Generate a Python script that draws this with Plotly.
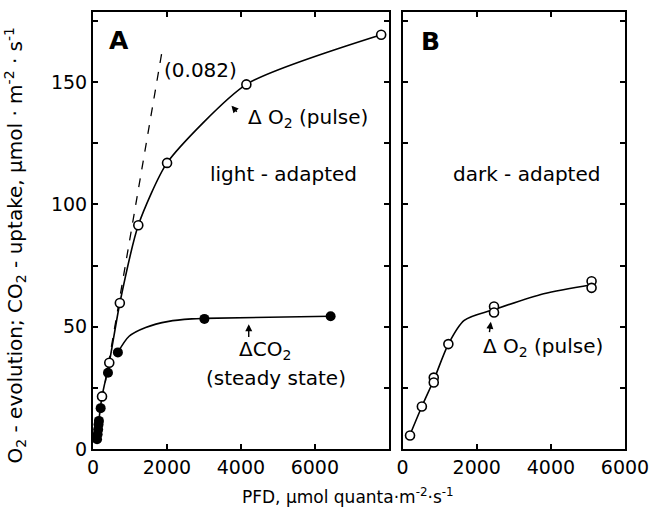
import plotly.graph_objects as go

# ---- Panel A: light-adapted ----
a_o2_x = [244, 440, 726, 1225, 2003, 4148, 7794]
a_o2_y = [21.5, 35.3, 59.7, 91.5, 117, 149.1, 169.4]
a_o2_curve_x = [130, 244, 440, 726, 1225, 2003, 4148, 7794]
a_o2_curve_y = [8, 21.5, 35.3, 59.7, 91.5, 117, 149.1, 169.4]

a_co2_x = [110, 125, 140, 150, 160, 207, 405, 673, 3013, 6427]
a_co2_y = [4, 6, 8, 10, 11.5, 16.7, 31.2, 39.5, 53.2, 54.3]
a_co2_curve_x = [673, 976, 1424, 2048, 2673, 3013, 6427]
a_co2_curve_y = [39.5, 46.1, 49.7, 52.2, 53.2, 53.4, 54.3]

a_slope_x = [250, 1860]
a_slope_y = [20, 162]

# ---- Panel B: dark-adapted ----
b_o2_x = [200, 519, 840, 840, 1234, 2466, 2466, 5098, 5098]
b_o2_y = [5.5, 17.4, 29.2, 27.2, 42.9, 58.3, 55.8, 68.6, 65.9]
b_curve_x = [190, 519, 840, 1234, 1662, 2466, 3804, 5098]
b_curve_y = [5.5, 17.4, 28.2, 42.9, 52.6, 57.0, 63.5, 67.2]

y_ticks = [0, 25, 50, 75, 100, 125, 150, 175]
y_ticktext = ["0", "", "50", "", "100", "", "150", ""]
x_ticks = [0, 2000, 4000, 6000]
x_ticktext = ["0", "2000", "4000", "6000"]

FONT = "DejaVu Sans"
W, H = 659, 523
ML, MR, MT, MB = 93, 30, 10, 74
PW, PH = W - ML - MR, H - MT - MB

fig = go.Figure()

line = dict(color="black", width=1.6)
fig.add_trace(go.Scatter(x=a_slope_x, y=a_slope_y, mode="lines",
                         line=dict(color="black", width=1.3, dash="dash"),
                         xaxis="x", yaxis="y", showlegend=False))
fig.add_trace(go.Scatter(x=a_o2_curve_x, y=a_o2_curve_y, mode="lines",
                         line=dict(shape="spline", smoothing=0.6, **line),
                         xaxis="x", yaxis="y", showlegend=False))
fig.add_trace(go.Scatter(x=a_co2_curve_x, y=a_co2_curve_y, mode="lines",
                         line=dict(shape="spline", smoothing=0.8, **line),
                         xaxis="x", yaxis="y", showlegend=False))
fig.add_trace(go.Scatter(x=a_co2_x, y=a_co2_y, mode="markers",
                         marker=dict(symbol="circle", size=10, color="black"),
                         xaxis="x", yaxis="y", showlegend=False))
fig.add_trace(go.Scatter(x=a_o2_x, y=a_o2_y, mode="markers",
                         marker=dict(symbol="circle", size=9, color="white",
                                     line=dict(color="black", width=1.6)),
                         xaxis="x", yaxis="y", showlegend=False))
fig.add_trace(go.Scatter(x=b_curve_x, y=b_curve_y, mode="lines",
                         line=dict(shape="spline", smoothing=0.8, **line),
                         xaxis="x2", yaxis="y2", showlegend=False))
fig.add_trace(go.Scatter(x=b_o2_x, y=b_o2_y, mode="markers",
                         marker=dict(symbol="circle", size=9, color="white",
                                     line=dict(color="black", width=1.6)),
                         xaxis="x2", yaxis="y2", showlegend=False))

axis_common = dict(showline=True, linecolor="black", linewidth=2, mirror="ticks",
                   ticks="inside", ticklen=5, tickwidth=1.6, tickcolor="black",
                   showgrid=False, zeroline=False,
                   tickfont=dict(family=FONT, size=19, color="black"))

fig.update_layout(
    width=W, height=H,
    margin=dict(l=ML, r=MR, t=MT, b=MB),
    paper_bgcolor="white", plot_bgcolor="white",
    xaxis=dict(domain=[0, 0.556], range=[0, 8000], tickvals=x_ticks,
               ticktext=x_ticktext, anchor="y", **axis_common),
    yaxis=dict(domain=[0, 1], range=[0, 178.7], tickvals=y_ticks,
               ticktext=y_ticktext, anchor="x", **axis_common),
    xaxis2=dict(domain=[0.582, 1], range=[0, 6000], tickvals=x_ticks,
                ticktext=x_ticktext, anchor="y2", **axis_common),
    yaxis2=dict(domain=[0, 1], range=[0, 178.7], tickvals=y_ticks,
                showticklabels=False, anchor="x2", **axis_common),
)

ann = []
def txt(x, y, t, xr="x", yr="y", size=20):
    ann.append(dict(x=x, y=y, xref=xr, yref=yr, text=t, showarrow=False,
                    font=dict(family=FONT, size=size, color="black"),
                    xanchor="center", yanchor="middle"))

def arrow(hx, hy, tx, ty, xr="x", yr="y"):
    ann.append(dict(x=hx, y=hy, ax=tx, ay=ty, xref=xr, yref=yr,
                    axref=xr, ayref=yr, text="", showarrow=True,
                    arrowhead=2, arrowsize=1, arrowwidth=1.4,
                    arrowcolor="black"))

txt(708, 167.2, "<b>A</b>", size=25)
txt(2920, 155, "(0.082)")
txt(5802, 135.2, "Δ O<sub>2</sub> (pulse)")
txt(5161, 112.3, "light - adapted")
txt(4649, 40.3, "ΔCO<sub>2</sub>")
txt(4945, 28.9, "(steady state)")
arrow(3745, 140.4, 3925, 137.3)
arrow(4212, 51, 4212, 45.2)

txt(742, 166.7, "<b>B</b>", "x2", "y2", size=25)
txt(3330, 112.3, "dark - adapted", "x2", "y2")
txt(3794, 41.8, "Δ O<sub>2</sub> (pulse)", "x2", "y2")
arrow(2380, 52, 2337, 47.2, "x2", "y2")

def px2paper(px, py):
    return (px - ML) / PW, (H - MB - py) / PH

yx, yy = px2paper(15, 244)
ann.append(dict(x=yx, y=yy, xref="paper", yref="paper",
                text="O<sub>2</sub> - evolution; CO<sub>2</sub> - uptake, μmol · m<sup>-2</sup> · s<sup>-1</sup>",
                textangle=-90, showarrow=False, xanchor="center", yanchor="middle",
                font=dict(family=FONT, size=20, color="black")))
xx, xy = px2paper(350, 496)
ann.append(dict(x=xx, y=xy, xref="paper", yref="paper",
                text="PFD, μmol quanta·m<sup>-2</sup>·s<sup>-1</sup>",
                showarrow=False, xanchor="center", yanchor="middle",
                font=dict(family=FONT, size=17, color="black")))

fig.update_layout(annotations=ann)
fig.write_html("out.html")
